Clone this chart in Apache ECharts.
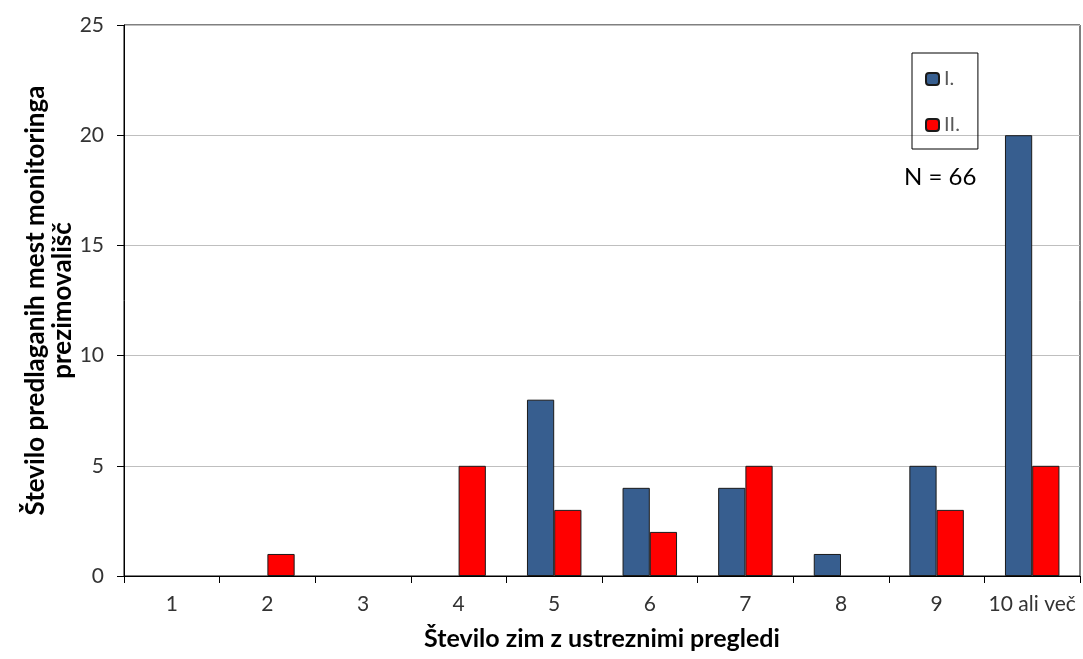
<!DOCTYPE html>
<html>
<head>
<meta charset="utf-8">
<script src="https://cdn.jsdelivr.net/npm/echarts@6/dist/echarts.min.js"></script>
<style>html,body{margin:0;padding:0;background:#fff;}#c{width:1083px;height:659px;}</style>
</head>
<body>
<div id="c"></div>
<script>
const categories = ['1','2','3','4','5','6','7','8','9','10 ali več'];
const seriesI = [0,0,0,0,8,4,4,1,5,20];
const seriesII = [0,1,0,5,3,2,5,0,3,5];
const yTicks = [0,5,10,15,20,25];
const fontF = 'Lato, "Open Sans", sans-serif';
const hideZero = arr => arr.map(v => v === 0 ? null : v);

const chart = echarts.init(document.getElementById('c'), null, {renderer:'canvas'});
chart.setOption({
  animation:false,
  backgroundColor:'#fff',
  grid:{left:124,right:3,top:25,bottom:83,show:true,borderColor:'#000',borderWidth:1},
  legend:{
    orient:'vertical', left:912, top:53, width:62,
    borderColor:'#000', borderWidth:1, padding:[16,18,14,13],
    itemWidth:13, itemHeight:12, itemGap:26,
    textStyle:{fontFamily:fontF, fontSize:20, color:'#595959'},
    data:['I.','II.']
  },
  xAxis:{
    type:'category', data:categories,
    axisLine:{lineStyle:{color:'#000'}},
    axisTick:{show:true, interval:0, length:7, lineStyle:{color:'#000'}},
    axisLabel:{interval:0, margin:18, fontFamily:fontF, fontSize:21, color:'#333'},
    name:'Število zim z ustreznimi pregledi', nameLocation:'middle', nameGap:50,
    nameTextStyle:{fontFamily:fontF, fontSize:25, fontWeight:'bold', color:'#000'}
  },
  yAxis:{
    type:'value', min:0, max:25, interval:5,
    axisLine:{show:true, lineStyle:{color:'#000'}},
    axisTick:{show:true, length:7, lineStyle:{color:'#000'}},
    splitLine:{lineStyle:{color:'#bfbfbf'}},
    axisLabel:{margin:20, fontFamily:fontF, fontSize:21, color:'#333'},
    name:'Število predlaganih mest monitoringa\nprezimovališč', nameLocation:'middle', nameGap:48,
    nameMoveOverlap:false,
    nameTextStyle:{fontFamily:fontF, fontSize:26, fontWeight:'bold', color:'#000', lineHeight:27}
  },
  series:[
    {name:'I.', type:'bar', data:hideZero(seriesI), barGap:'0%', barCategoryGap:'43%',
     itemStyle:{color:'#375e8f', borderColor:'#1a1a1a', borderWidth:1}},
    {name:'II.', type:'bar', data:hideZero(seriesII),
     itemStyle:{color:'#ff0000', borderColor:'#1a1a1a', borderWidth:1}}
  ],
  graphic:[{type:'text', left:904, top:165, style:{text:'N = 66', font:'24px '+fontF, fill:'#000'}}]
});
</script>
</body>
</html>
